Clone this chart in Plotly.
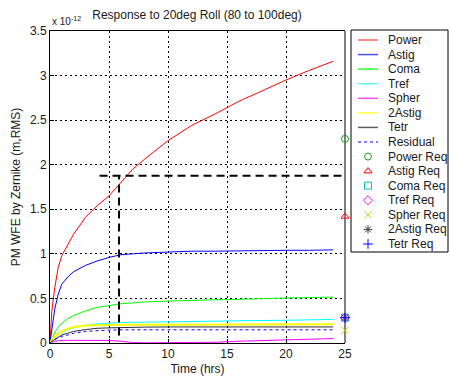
import plotly.graph_objects as go

# Time axis (hrs) and series values in units of 1e-12 m RMS
t = [0, 0.15, 0.4, 0.7, 1.0, 1.5, 2, 3, 4, 5, 6, 7, 8, 10, 12, 14, 16, 18, 20, 22, 24]
power = [0, 0.35, 0.62, 0.85, 0.98, 1.10, 1.22, 1.41, 1.54, 1.65, 1.80, 1.95, 2.06, 2.27, 2.44, 2.57, 2.71, 2.83, 2.95, 3.06, 3.16]
astig = [0, 0.15, 0.38, 0.55, 0.66, 0.74, 0.80, 0.87, 0.92, 0.96, 0.99, 1.00, 1.01, 1.02, 1.03, 1.03, 1.035, 1.04, 1.04, 1.04, 1.045]
coma = [0, 0.05, 0.12, 0.18, 0.22, 0.27, 0.31, 0.36, 0.40, 0.42, 0.44, 0.45, 0.46, 0.47, 0.48, 0.485, 0.49, 0.50, 0.505, 0.51, 0.515]
tref = [0, 0.03, 0.07, 0.10, 0.12, 0.15, 0.17, 0.20, 0.215, 0.225, 0.23, 0.232, 0.235, 0.24, 0.24, 0.245, 0.25, 0.25, 0.255, 0.26, 0.265]
spher = [0, 0.01, 0.02, 0.025, 0.03, 0.03, 0.03, 0.03, 0.03, 0.028, 0.02, 0.005, 0.002, 0.003, 0.004, 0.008, 0.02, 0.028, 0.035, 0.045, 0.05]
astig2 = [0, 0.04, 0.08, 0.11, 0.13, 0.16, 0.18, 0.195, 0.20, 0.205, 0.205, 0.205, 0.205, 0.205, 0.205, 0.205, 0.207, 0.207, 0.208, 0.21, 0.21]
tetr = [0, 0.02, 0.04, 0.07, 0.09, 0.11, 0.13, 0.15, 0.165, 0.17, 0.175, 0.177, 0.178, 0.18, 0.18, 0.18, 0.18, 0.18, 0.18, 0.18, 0.18]
residual = [0, 0.02, 0.04, 0.06, 0.075, 0.09, 0.11, 0.13, 0.14, 0.145, 0.148, 0.148, 0.148, 0.148, 0.148, 0.148, 0.148, 0.148, 0.148, 0.148, 0.148]

req_x = 25
req_names = ["Power Req", "Astig Req", "Coma Req", "Tref Req", "Spher Req", "2Astig Req", "Tetr Req"]
req_vals = [2.29, 1.42, 0.284, 0.284, 0.14, 0.284, 0.284]

guide_h_x = [4.2, 24.7]
guide_level = 1.875
guide_v_x = 5.85
guide_v_bottom = 0.085

x_ticks = [0, 5, 10, 15, 20, 25]
y_ticks = [0, 0.5, 1, 1.5, 2, 2.5, 3, 3.5]

FONT = "Liberation Sans, Arial, sans-serif"
TXT = "#1a1a1a"

# layout geometry in pixels; the paper spans the whole figure
W, H = 450, 376
L, R, T, B = 50, 345, 31, 343
def fx(p):
    return p / W
def fy(p):
    return 1 - p / H

fig = go.Figure()

series = [
    ("Power", power, "#ff0000", None, 1),
    ("Astig", astig, "#0000ff", None, 1),
    ("Coma", coma, "#00ff00", None, 1),
    ("Tref", tref, "#00ffff", None, 1),
    ("Spher", spher, "#ff00ff", None, 1),
    ("2Astig", astig2, "#ffff00", None, 2),
    ("Tetr", tetr, "#303030", None, 1),
    ("Residual", residual, "#0000ff", "3px,3px", 1),
]
legend_line_colors = ["#ff6060", "#5050ff", "#30ff30", "#60ffff", "#ff50ff", "#ffff40", "#606060", "#0000ff"]
for name, vals, col, dash, w in series:
    fig.add_trace(go.Scatter(x=t, y=vals, mode="lines", name=name, showlegend=False,
                             line=dict(color=col, width=w, dash=dash if dash else "solid")))

markers = [
    ("circle-open", "#1a9a1a"),
    ("triangle-up-open", "#ff0000"),
    ("square-open", "#00c0c0"),
    ("diamond-open", "#ff00ff"),
    ("x-thin-open", "#c8c800"),
    ("asterisk-open", "#404040"),
    ("cross-thin-open", "#0000ff"),
]
for name, val, (sym, col) in zip(req_names, req_vals, markers):
    fig.add_trace(go.Scatter(x=[req_x], y=[val], mode="markers", name=name, showlegend=False,
                             marker=dict(symbol=sym, size=7, color=col, line=dict(color=col, width=1)),
                             cliponaxis=False))

# black dashed guide lines
fig.add_trace(go.Scatter(x=guide_h_x, y=[guide_level, guide_level], mode="lines", showlegend=False,
                         line=dict(color="black", width=2, dash="8px,5px")))
fig.add_trace(go.Scatter(x=[guide_v_x, guide_v_x], y=[guide_v_bottom, guide_level], mode="lines", showlegend=False,
                         line=dict(color="black", width=2, dash="8px,5px")))

# ---- custom legend (MATLAB style) ----
leg_left, leg_right, leg_top, leg_bottom = 351, 448, 30, 252
item_y0, item_dy = 40, 14.57
shapes = [dict(type="rect", xref="paper", yref="paper",
               x0=fx(leg_left), x1=fx(leg_right), y0=fy(leg_bottom), y1=fy(leg_top),
               line=dict(color="black", width=1), fillcolor="rgba(0,0,0,0)", layer="below")]
annotations = []
names_all = [s[0] for s in series] + req_names
for i, name in enumerate(names_all):
    yy = item_y0 + i * item_dy
    annotations.append(dict(text=name, xref="paper", yref="paper", x=fx(386), y=fy(yy),
                            xanchor="left", yanchor="middle", showarrow=False,
                            font=dict(family=FONT, size=12, color=TXT)))
    if i < len(series):
        s = series[i]
        shapes.append(dict(type="line", xref="paper", yref="paper", x0=fx(358), x1=fx(378),
                           y0=fy(yy), y1=fy(yy), layer="above",
                           line=dict(color=legend_line_colors[i], width=1.5 if i < 7 else 1,
                                     dash=s[3] if s[3] else "solid")))

# legend markers on a dedicated axis covering the legend box, measured in pixels
leg_mx, leg_my, leg_sym, leg_col = [], [], [], []
for j, (sym, col) in enumerate(markers):
    leg_mx.append(368)
    leg_my.append(item_y0 + (len(series) + j) * item_dy)
    leg_sym.append(sym)
    leg_col.append(col)
fig.add_trace(go.Scatter(x=leg_mx, y=leg_my, xaxis="x2", yaxis="y2", mode="markers", showlegend=False,
                         hoverinfo="skip", cliponaxis=False,
                         marker=dict(symbol=leg_sym, size=7, color=leg_col, line=dict(color=leg_col, width=1))))

# gray right frame edge
shapes.append(dict(type="line", xref="paper", yref="paper", x0=fx(R), x1=fx(R), y0=fy(B), y1=fy(T),
                   line=dict(color="#808080", width=2), layer="between"))

axis_common = dict(showline=True, linecolor="black", linewidth=1, automargin=False,
                   ticks="inside", ticklen=4, tickcolor="black",
                   showgrid=True, gridcolor="black", gridwidth=1, griddash="2px,3px",
                   zeroline=False, tickfont=dict(family=FONT, size=12, color=TXT))

fig.update_layout(
    xaxis=dict(domain=[fx(L), fx(R)], range=[0, 25], tickvals=x_ticks, ticktext=[str(v) for v in x_ticks],
               mirror=True, anchor="y",
               title=dict(text="Time (hrs)", font=dict(family=FONT, size=12, color=TXT), standoff=4),
               **axis_common),
    yaxis=dict(domain=[fy(B), fy(T)], range=[0, 3.5], tickvals=y_ticks, ticktext=[f"{v:g}" for v in y_ticks],
               mirror=False, anchor="x",
               title=dict(text="PM WFE by Zernike (m,RMS)", font=dict(family=FONT, size=12, color=TXT), standoff=6),
               **axis_common),
    xaxis2=dict(domain=[fx(leg_left), fx(leg_right)], range=[leg_left, leg_right], visible=False,
                fixedrange=True, anchor="y2", automargin=False),
    yaxis2=dict(domain=[fy(leg_bottom), fy(leg_top)], range=[leg_bottom, leg_top], visible=False,
                fixedrange=True, anchor="x2", automargin=False),
)

fig.add_annotation(text="x 10<sup>-12</sup>", xref="paper", yref="paper", x=fx(L), y=fy(T),
                   xanchor="left", yanchor="bottom", showarrow=False, yshift=2,
                   font=dict(family=FONT, size=10, color=TXT))
for a in annotations:
    fig.add_annotation(**a)

fig.update_layout(
    width=W, height=H,
    margin=dict(l=0, r=0, t=0, b=0, pad=0, autoexpand=False),
    paper_bgcolor="white", plot_bgcolor="white",
    title=dict(text="Response to 20deg Roll (80 to 100deg)", x=197 / W, xanchor="center",
               y=1 - 15 / H, yanchor="middle", xref="container", yref="container",
               font=dict(family=FONT, size=12, color=TXT)),
    shapes=shapes,
    showlegend=False,
)

fig.write_html("out.html")
